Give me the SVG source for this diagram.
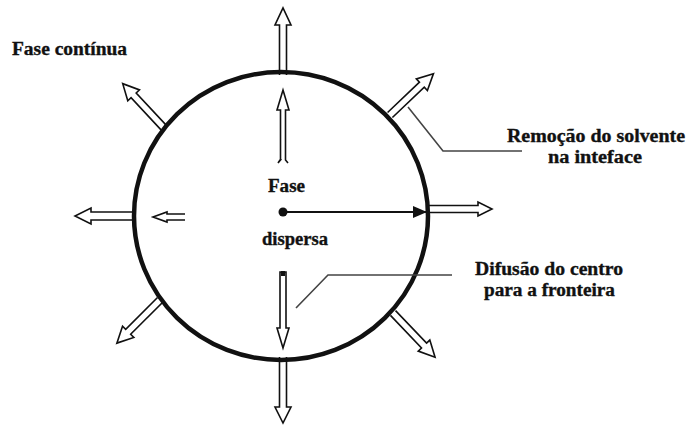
<svg xmlns="http://www.w3.org/2000/svg" width="689" height="425" viewBox="0 0 689 425">
<defs>
<style>
.ar{fill:#fff;stroke:#111;stroke-width:1.6;stroke-linejoin:miter}
.lead{fill:none;stroke:#444;stroke-width:1.6}
.t{font-family:"Liberation Serif","Times New Roman",serif;font-weight:bold;font-size:18px;fill:#111;stroke:#111;stroke-width:0.35}
</style>
<marker id="fh" viewBox="0 0 14 12" refX="13" refY="6" markerWidth="14" markerHeight="12" markerUnits="userSpaceOnUse" orient="auto">
<path d="M0,0 L14,6 L0,12 Z" fill="#111"/>
</marker>
</defs>
<rect width="689" height="425" fill="#fff"/>
<g id="outer-arrows">
<path class="ar" transform="translate(283,75) rotate(-90)" d="M0,-3.5 L50,-3.5 L50,-8 L67,0 L50,8 L50,3.5 L0,3.5"/>
<path class="ar" transform="translate(283,357) rotate(90)" d="M0,-3.5 L50,-3.5 L50,-8 L66,0 L50,8 L50,3.5 L0,3.5"/>
<path class="ar" transform="translate(136,216) rotate(180)" d="M0,-4 L45,-4 L45,-8 L61,0 L45,8 L45,4 L0,4"/>
<path class="ar" transform="translate(428,209) rotate(0)" d="M0,-3.5 L50,-3.5 L50,-7 L64,0 L50,7 L50,3.5 L0,3.5"/>
<path class="ar" transform="translate(165,129) rotate(-133)" d="M0,-3.5 L46,-3.5 L46,-8 L62,0 L46,8 L46,3.5 L0,3.5"/>
<path class="ar" transform="translate(390,115) rotate(-43.6)" d="M0,-3.5 L44,-3.5 L44,-8 L60,0 L44,8 L44,3.5 L0,3.5"/>
<path class="ar" transform="translate(160,300) rotate(135)" d="M0,-3.5 L45,-3.5 L45,-8 L61,0 L45,8 L45,3.5 L0,3.5"/>
<path class="ar" transform="translate(393,313) rotate(46.4)" d="M0,-3.5 L45,-3.5 L45,-8 L61,0 L45,8 L45,3.5 L0,3.5"/>
</g>
<g id="inner-arrows">
<path class="ar" transform="translate(283,160) rotate(-90)" d="M0,-2.5 L-3,-5 L0,-3 Z M0,-2.5 L50,-2.5 L50,-6 L70,0 L50,6 L50,2.5 L0,2.5 L-3,5"/>
<path class="ar" transform="translate(283,272) rotate(90)" d="M0,-3 L56,-3 L56,-6 L76,0 L56,6 L56,3 L0,3 Z"/>
<rect x="281" y="271" width="4" height="5" fill="#111"/>
<path class="ar" transform="translate(185,217) rotate(180)" d="M0,-3 L18,-3 L18,-5 L32,0 L18,5 L18,3 L0,3"/>
</g>
<g id="particle">
<ellipse cx="281" cy="216" rx="147" ry="144" fill="none" stroke="#111" stroke-width="4.5"/>
</g>
<g id="connectors">
<line x1="283" y1="212" x2="426" y2="212" stroke="#111" stroke-width="2.2" marker-end="url(#fh)"/>
<circle cx="283" cy="212" r="4.5" fill="#111"/>
<polyline class="lead" points="408,107 443,151 522,151"/>
<polyline class="lead" points="296,308 328,275 452,275"/>
</g>
<g id="labels">
<text class="t" x="12" y="55" textLength="115" lengthAdjust="spacingAndGlyphs">Fase contínua</text>
<text class="t" x="507" y="142" textLength="178" lengthAdjust="spacingAndGlyphs">Remoção do solvente</text>
<text class="t" x="548" y="163" textLength="94" lengthAdjust="spacingAndGlyphs">na inteface</text>
<text class="t" x="475" y="275" textLength="148" lengthAdjust="spacingAndGlyphs">Difusão do centro</text>
<text class="t" x="484" y="296" textLength="131" lengthAdjust="spacingAndGlyphs">para a fronteira</text>
<text class="t" x="268" y="192" textLength="37" lengthAdjust="spacingAndGlyphs">Fase</text>
<text class="t" x="262" y="245" textLength="66" lengthAdjust="spacingAndGlyphs">dispersa</text>
</g>
</svg>
